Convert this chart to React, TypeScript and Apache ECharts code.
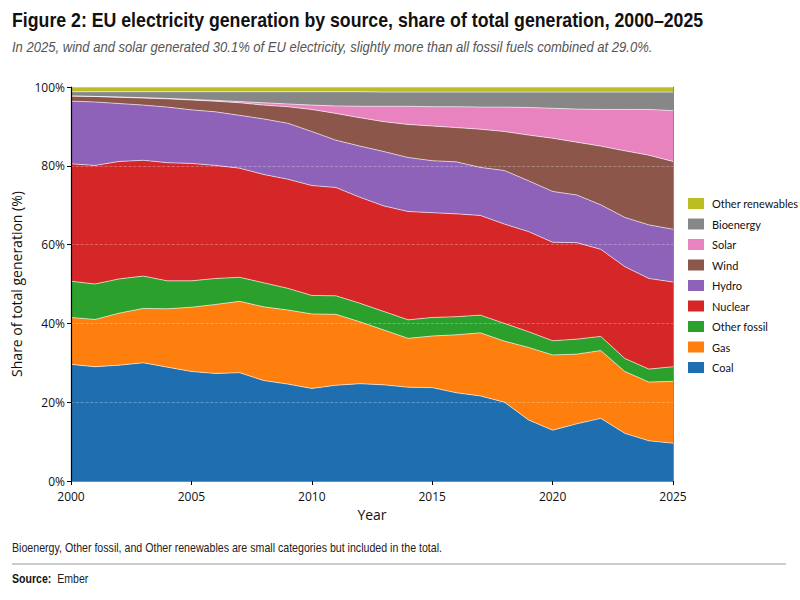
import React, { useEffect, useRef } from "react";
import * as echarts from "echarts";

const years = ["2000", "2001", "2002", "2003", "2004", "2005", "2006", "2007", "2008", "2009", "2010", "2011", "2012", "2013", "2014", "2015", "2016", "2017", "2018", "2019", "2020", "2021", "2022", "2023", "2024", "2025"];

const coal = [29.6, 29.0, 29.4, 30.0, 28.9, 27.8, 27.3, 27.5, 25.5, 24.6, 23.5, 24.3, 24.7, 24.4, 23.8, 23.7, 22.4, 21.6, 20.0, 15.5, 12.9, 14.5, 15.9, 12.1, 10.2, 9.6];
const gas = [11.9, 12.0, 13.2, 13.8, 14.8, 16.3, 17.5, 18.1, 18.7, 18.8, 18.9, 18.0, 15.7, 13.9, 12.4, 13.1, 14.7, 16.0, 15.5, 18.4, 19.1, 17.7, 17.2, 15.7, 14.9, 15.7];
const otherFossil = [9.2, 9.0, 8.7, 8.2, 7.1, 6.7, 6.6, 6.1, 6.1, 5.5, 4.7, 4.7, 4.7, 4.7, 4.7, 4.7, 4.6, 4.5, 4.5, 4.0, 3.6, 3.8, 3.6, 3.3, 3.3, 3.7];
const nuclear = [29.8, 30.1, 29.8, 29.4, 30.0, 29.8, 28.7, 27.7, 27.5, 27.7, 27.9, 27.5, 26.9, 26.8, 27.5, 26.6, 26.1, 25.3, 25.2, 25.4, 25.0, 24.5, 22.1, 23.3, 23.0, 21.5];
const hydro = [15.9, 16.1, 14.7, 14.0, 14.1, 13.6, 13.6, 13.4, 14.1, 14.2, 13.7, 12.0, 13.0, 13.8, 13.7, 13.2, 13.2, 12.2, 13.6, 12.9, 12.9, 12.1, 11.3, 12.5, 13.6, 13.4];
const wind = [1.3, 1.4, 1.6, 1.8, 2.1, 2.5, 2.7, 3.2, 3.5, 4.2, 5.6, 6.8, 7.2, 7.6, 8.4, 8.8, 8.7, 9.7, 9.9, 11.6, 13.5, 13.4, 14.9, 16.9, 17.7, 17.2];
const solar = [0.0, 0.0, 0.05, 0.1, 0.1, 0.15, 0.2, 0.3, 0.6, 0.7, 1.1, 1.9, 2.9, 3.9, 4.6, 4.9, 5.3, 5.6, 6.2, 7.0, 7.6, 8.4, 9.3, 10.5, 11.6, 12.9];
const bioenergy = [1.1, 1.2, 1.35, 1.5, 1.7, 1.95, 2.2, 2.5, 2.8, 3.1, 3.4, 3.6, 3.7, 3.6, 3.6, 3.7, 3.7, 3.8, 3.8, 3.9, 4.1, 4.3, 4.4, 4.4, 4.4, 4.7];
const otherRenewables = [1.2, 1.2, 1.2, 1.2, 1.2, 1.2, 1.2, 1.2, 1.2, 1.2, 1.2, 1.2, 1.2, 1.3, 1.3, 1.3, 1.3, 1.3, 1.3, 1.3, 1.3, 1.3, 1.3, 1.3, 1.3, 1.3];

const seriesNames = ["Coal", "Gas", "Other fossil", "Nuclear", "Hydro", "Wind", "Solar", "Bioenergy", "Other renewables"];
const seriesValues = [coal, gas, otherFossil, nuclear, hydro, wind, solar, bioenergy, otherRenewables];
const seriesColors = ["#1f6fb0", "#ff7f0e", "#2ca02c", "#d62728", "#8e62b8", "#8c564b", "#e983c0", "#878787", "#bcbd22"];
const yTicks = [20, 40, 60, 80];

const TITLE = "Figure 2: EU electricity generation by source, share of total generation, 2000\u20132025";
const SUBTITLE = "In 2025, wind and solar generated 30.1% of EU electricity, slightly more than all fossil fuels combined at 29.0%.";
const NOTE = "Bioenergy, Other fossil, and Other renewables are small categories but included in the total.";

const ARIAL = "'Liberation Sans', Arial, sans-serif";
const SANS = "'Open Sans', 'Noto Sans', sans-serif";

export default function App() {
  const ref = useRef<HTMLDivElement>(null);
  useEffect(() => {
    if (!ref.current) return;
    const chart = echarts.init(ref.current, null, { renderer: "svg" });
    const series: any[] = seriesNames.map((name, i) => {
      const s: any = {
        name,
        type: "line",
        stack: "total",
        symbol: "none",
        showSymbol: false,
        data: seriesValues[i],
        itemStyle: { color: seriesColors[i] },
        lineStyle: { color: "rgba(255,255,255,0.75)", width: 0.8 },
        areaStyle: { color: seriesColors[i], opacity: 1 },
        emphasis: { disabled: true },
      };
      if (i === seriesNames.length - 1) {
        s.markLine = {
          silent: true,
          symbol: ["none", "none"],
          label: { show: false },
          lineStyle: { type: "dashed", color: "rgba(255,255,255,0.35)", width: 0.8 },
          data: yTicks.map((v) => ({ yAxis: v })),
        };
      }
      return s;
    });
    chart.setOption({
      animation: false,
      backgroundColor: "#ffffff",
      grid: { left: 71, right: 127, top: 87, bottom: 119, containLabel: false },
      xAxis: [
        {
          type: "category",
          data: years,
          boundaryGap: false,
          z: 10,
          name: "Year",
          nameLocation: "middle",
          nameGap: 26,
          nameTextStyle: { fontFamily: SANS, fontSize: 14, color: "#111" },
          axisLine: { show: true, onZero: false, lineStyle: { color: "#000", width: 1.2 } },
          axisTick: { show: true, length: 4, interval: 4, lineStyle: { color: "#000" } },
          axisLabel: { fontFamily: SANS, fontSize: 12, color: "#111", interval: 4, margin: 9 },
          splitLine: { show: false },
        },
        {
          type: "value",
          position: "top",
          min: 0,
          max: 1,
          z: 10,
          axisLine: { show: true, lineStyle: { color: "#888", width: 1 } },
          axisTick: { show: false },
          axisLabel: { show: false },
          splitLine: { show: false },
        },
      ],
      yAxis: [
        {
          type: "value",
          min: 0,
          max: 100,
          interval: 20,
          z: 10,
          name: "Share of total generation (%)",
          nameLocation: "middle",
          nameGap: 46,
          nameTextStyle: { fontFamily: SANS, fontSize: 14, color: "#111" },
          axisLine: { show: true, lineStyle: { color: "#000", width: 1.2 } },
          axisTick: { show: true, length: 4, lineStyle: { color: "#000" } },
          axisLabel: { fontFamily: SANS, fontSize: 12, color: "#111", formatter: "{value}%", margin: 6 },
          splitLine: { show: false },
        },
        {
          type: "value",
          position: "right",
          min: 0,
          max: 100,
          z: 10,
          axisLine: { show: true, lineStyle: { color: "#888", width: 1 } },
          axisTick: { show: false },
          axisLabel: { show: false },
          splitLine: { show: false },
        },
      ],
      legend: {
        orient: "vertical",
        left: 683,
        top: 193,
        icon: "rect",
        itemWidth: 16,
        itemHeight: 11,
        itemGap: 9.5,
        data: [...seriesNames].reverse(),
        itemStyle: { borderWidth: 0 },
        textStyle: { fontFamily: "Lato, sans-serif", fontSize: 11, color: "#111", padding: [0, 0, 0, 3] },
        selectedMode: false,
      },
      series,
      graphic: [
        {
          type: "text",
          x: 12,
          y: 9,
          scaleX: 0.844,
          style: { text: TITLE, fontFamily: ARIAL, fontWeight: "bold", fontSize: 21, fill: "#111", textVerticalAlign: "top" },
        },
        {
          type: "text",
          x: 12,
          y: 40,
          scaleX: 0.9,
          style: { text: SUBTITLE, fontFamily: ARIAL, fontStyle: "italic", fontSize: 14.5, fill: "#555", textVerticalAlign: "top" },
        },
        {
          type: "text",
          x: 12,
          y: 542,
          scaleX: 0.885,
          style: { text: NOTE, fontFamily: ARIAL, fontSize: 12, fill: "#222", textVerticalAlign: "top" },
        },
        {
          type: "line",
          shape: { x1: 12, y1: 564, x2: 786, y2: 564 },
          style: { stroke: "#bbbbbb", lineWidth: 1.5 },
        },
        {
          type: "text",
          x: 12,
          y: 573,
          scaleX: 0.88,
          style: {
            text: "{b|Source:}  Ember",
            fontFamily: ARIAL,
            fontSize: 12,
            fill: "#222",
            textVerticalAlign: "top",
            rich: { b: { fontFamily: ARIAL, fontWeight: "bold", fontSize: 12, fill: "#111" } },
          },
        },
      ],
    });
    return () => chart.dispose();
  }, []);
  return <div ref={ref} style={{ position: "absolute", left: 0, top: 0, width: 800, height: 600 }} />;
}
